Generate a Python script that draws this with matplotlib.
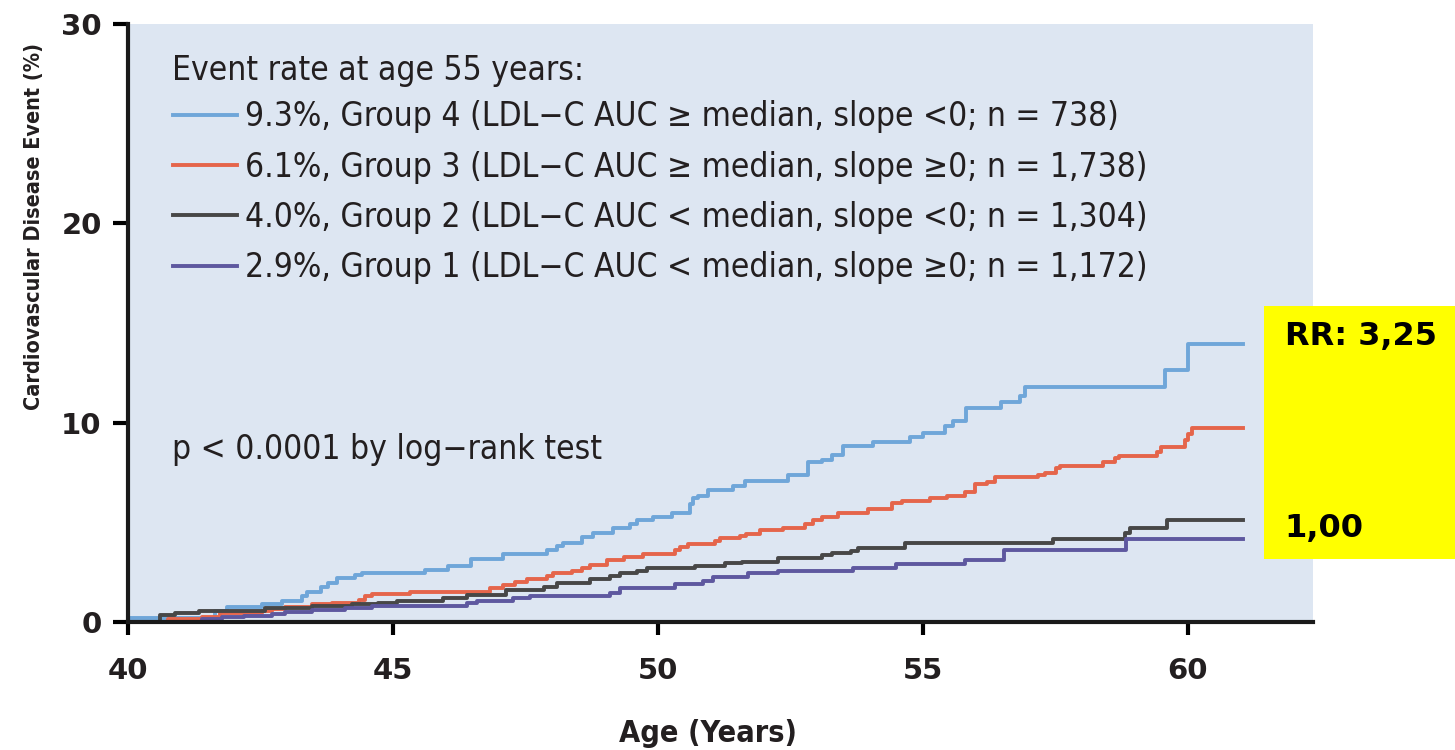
import matplotlib
matplotlib.use("Agg")
import matplotlib.pyplot as plt
from matplotlib.patches import Rectangle

# cumulative CVD event rate (%) by age, step points per group
age_g4 = [40.0, 41.64, 41.86, 42.52, 42.9, 43.28, 43.37, 43.65, 43.77, 43.94, 44.28, 44.41,
          45.6, 46.04, 46.48, 47.08, 47.9, 48.09, 48.21, 48.56, 48.78, 49.16, 49.47, 49.6,
          49.91, 50.26, 50.6, 50.67, 50.76, 50.95, 51.42, 51.64, 52.46, 52.84, 53.09, 53.28,
          53.5, 54.06, 54.75, 55.0, 55.42, 55.57, 55.82, 56.48, 56.83, 56.92, 59.57, 60.01, 61.04]
rate_g4 = [0.2, 0.55, 0.77, 0.9, 1.05, 1.3, 1.52, 1.77, 1.94, 2.2, 2.36, 2.47,
           2.6, 2.8, 3.16, 3.41, 3.6, 3.8, 3.98, 4.28, 4.45, 4.7, 4.9, 5.12,
           5.25, 5.45, 5.9, 6.2, 6.32, 6.62, 6.82, 7.07, 7.37, 8.04, 8.15, 8.38,
           8.83, 9.02, 9.3, 9.5, 9.83, 10.1, 10.72, 11.06, 11.34, 11.8, 12.64, 13.93, 13.93]

age_g3 = [40.0, 40.75, 41.39, 41.74, 42.52, 42.71, 42.96, 43.47, 43.84, 44.35, 44.47, 44.6,
          45.32, 46.83, 47.08, 47.3, 47.52, 47.9, 48.02, 48.37, 48.56, 48.72, 49.03, 49.35,
          49.72, 50.32, 50.42, 50.57, 51.08, 51.17, 51.55, 51.67, 51.92, 52.36, 52.77, 52.93,
          53.09, 53.4, 53.97, 54.41, 54.6, 55.13, 55.45, 55.79, 55.98, 56.2, 56.36, 57.18,
          57.3, 57.52, 57.58, 58.4, 58.62, 58.69, 59.41, 59.5, 59.94, 60.0, 60.07, 61.04]
rate_g3 = [0.0, 0.15, 0.24, 0.47, 0.55, 0.65, 0.77, 0.89, 0.97, 1.12, 1.3, 1.42,
           1.52, 1.69, 1.85, 2.02, 2.14, 2.3, 2.44, 2.55, 2.69, 2.86, 3.11, 3.28,
           3.42, 3.6, 3.78, 3.91, 4.05, 4.2, 4.3, 4.4, 4.62, 4.73, 4.9, 5.12,
           5.28, 5.45, 5.67, 5.95, 6.09, 6.2, 6.32, 6.54, 6.92, 7.04, 7.29, 7.37,
           7.49, 7.71, 7.83, 8.04, 8.21, 8.35, 8.55, 8.78, 9.13, 9.42, 9.72, 9.72]

age_g2 = [40.0, 40.6, 40.89, 41.33, 42.58, 43.47, 44.22, 44.72, 45.07, 45.95, 46.39, 47.14,
          47.84, 48.09, 48.72, 49.09, 49.28, 49.6, 49.79, 50.7, 51.26, 51.58, 52.27, 53.09,
          53.28, 53.65, 53.78, 54.66, 57.46, 58.81, 58.9, 59.6, 61.04]
rate_g2 = [0.0, 0.35, 0.47, 0.57, 0.69, 0.8, 0.89, 0.97, 1.07, 1.19, 1.35, 1.6,
           1.75, 1.94, 2.14, 2.3, 2.44, 2.58, 2.69, 2.8, 2.94, 3.03, 3.23, 3.35,
           3.45, 3.58, 3.7, 3.95, 4.16, 4.45, 4.7, 5.12, 5.12]

age_g1 = [40.0, 41.39, 41.77, 42.18, 42.71, 42.96, 43.47, 44.09, 44.6, 46.39, 46.58, 47.27,
          47.58, 49.09, 49.28, 50.32, 50.85, 51.04, 51.7, 52.27, 53.68, 54.5, 55.79, 56.52,
          58.84, 61.04]
rate_g1 = [0.0, 0.13, 0.24, 0.32, 0.4, 0.52, 0.6, 0.7, 0.82, 0.97, 1.07, 1.19,
           1.3, 1.44, 1.69, 1.89, 2.06, 2.24, 2.44, 2.58, 2.69, 2.9, 3.11, 3.61,
           4.16, 4.16]

labels = [
    "9.3%, Group 4 (LDL\u2212C AUC \u2265 median, slope <0; n = 738)",
    "6.1%, Group 3 (LDL\u2212C AUC \u2265 median, slope \u22650; n = 1,738)",
    "4.0%, Group 2 (LDL\u2212C AUC < median, slope <0; n = 1,304)",
    "2.9%, Group 1 (LDL\u2212C AUC < median, slope \u22650; n = 1,172)",
]
colors = ["#6fa6d9", "#e5654b", "#474747", "#5e589f"]
rr_labels = ["RR: 3,25", "1,00"]

ink = "#231f20"
cond = dict(family="DejaVu Sans", stretch="condensed")

fig = plt.figure(figsize=(14.55, 7.5), dpi=100)
ax = fig.add_axes([0.088, 0.1707, 0.8144, 0.7973])
ax.set_facecolor("#dde6f2")

series = [(age_g4, rate_g4), (age_g3, rate_g3), (age_g2, rate_g2), (age_g1, rate_g1)]
for (a, r), c, lab in zip(series, colors, labels):
    ax.plot(a, r, drawstyle="steps-post", color=c, lw=2.8, label=lab)

ax.set_xlim(40, 62.36)
ax.set_ylim(0, 30)
ax.set_xticks([40, 45, 50, 55, 60])
ax.set_yticks([0, 10, 20, 30])
for s in ["top", "right"]:
    ax.spines[s].set_visible(False)
for s in ["left", "bottom"]:
    ax.spines[s].set_linewidth(3)
    ax.spines[s].set_color("#1a1a1a")
ax.tick_params(axis="y", length=11, width=3, pad=8, labelsize=21, labelcolor=ink)
ax.tick_params(axis="x", length=9, width=3, pad=16, labelsize=21, labelcolor=ink)
for lab in ax.get_xticklabels() + ax.get_yticklabels():
    lab.set_fontweight("bold")

ax.set_xlabel("Age (Years)", fontweight="bold", fontsize=22, color=ink, **cond)
ax.xaxis.set_label_coords(0.4895, -0.163)
ax.text(-0.079, 0.662, "Cardiovascular Disease Event (%)", transform=ax.transAxes,
        rotation=90, ha="center", va="center", fontweight="bold",
        fontsize=15.5, color=ink, **cond)

# legend header drawn as plain text, entries via legend
ax.text(0.0371, 0.923, "Event rate at age 55 years:", transform=ax.transAxes,
        ha="left", va="center", fontsize=24, color=ink, **cond)
leg = ax.legend(loc="upper left", bbox_to_anchor=(0.027, 0.8946), frameon=False,
                prop=dict(size=24, **cond),
                handlelength=1.9, handletextpad=0.24, labelspacing=0.52, borderaxespad=0)
for t in leg.get_texts():
    t.set_color(ink)
for h in leg.legend_handles:
    h.set_linewidth(2.8)

ax.text(0.037, 0.2876, "p < 0.0001 by log\u2212rank test", transform=ax.transAxes,
        ha="left", va="center", fontsize=24, color=ink, **cond)

# relative risk box on the right
fig.patches.append(Rectangle((0.8687, 0.2547), 0.1313, 0.3373, transform=fig.transFigure,
                             facecolor="#ffff00", edgecolor="none", zorder=5))
fig.text(0.883, 0.551, rr_labels[0], ha="left", va="center", fontsize=23,
         fontweight="bold", color="black", zorder=6)
fig.text(0.883, 0.296, rr_labels[1], ha="left", va="center", fontsize=23,
         fontweight="bold", color="black", zorder=6)

fig.savefig("out.png", dpi=100)
